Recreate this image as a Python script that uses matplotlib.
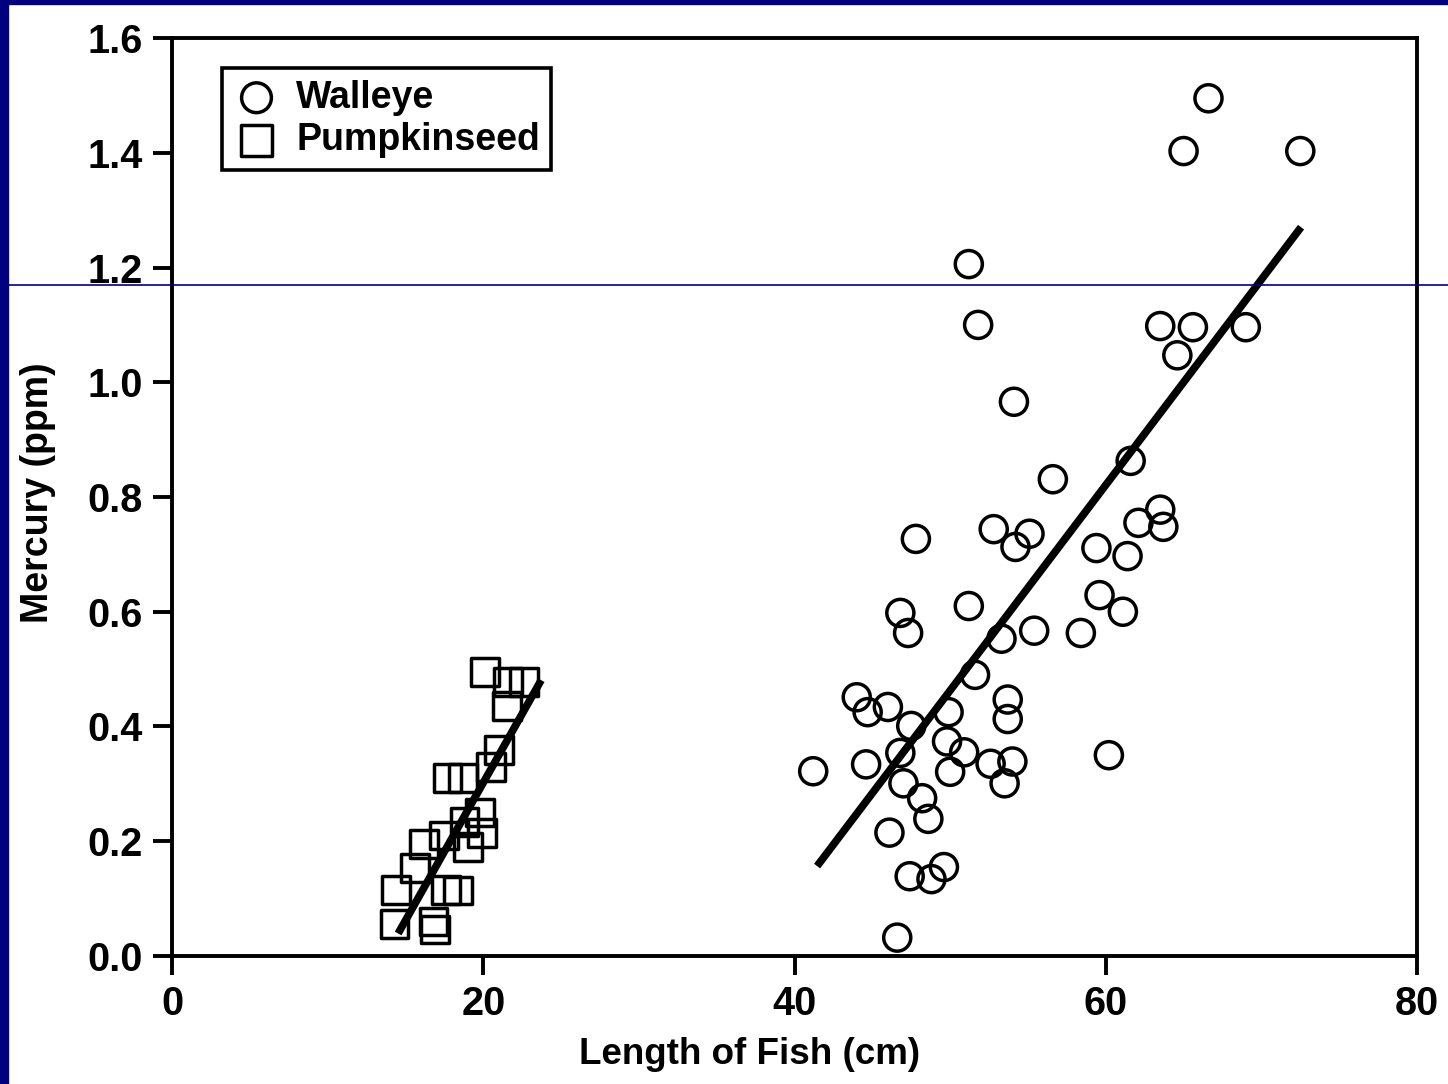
import matplotlib
matplotlib.use('Agg')
import matplotlib.pyplot as plt
from matplotlib.lines import Line2D
from matplotlib.patches import Rectangle

plt.rcParams['font.family'] = ['Liberation Sans', 'DejaVu Sans']

# -- data -------------------------------------------------------------------
walleye_len = [66.6, 65.0, 72.5, 51.2, 51.8, 63.5, 65.6, 64.6, 69.0, 54.1,
               61.6, 56.6, 47.8, 52.8, 55.1, 54.2, 59.4, 61.4, 62.1, 63.5,
               63.7, 59.6, 61.1, 51.2, 46.8, 47.3, 55.4, 53.3, 58.4, 51.6,
               44.0, 44.7, 46.0, 47.5, 49.9, 53.7, 53.7, 49.8, 50.9, 46.8,
               44.6, 41.2, 50.0, 52.6, 54.0, 53.5, 47.0, 48.2, 48.6, 46.1,
               60.2, 47.4, 48.8, 49.6, 46.6]
walleye_hg = [1.495, 1.403, 1.403, 1.206, 1.100, 1.098, 1.096, 1.047, 1.096, 0.966,
              0.863, 0.831, 0.727, 0.744, 0.736, 0.713, 0.711, 0.697, 0.755, 0.778,
              0.748, 0.629, 0.600, 0.610, 0.598, 0.563, 0.567, 0.553, 0.563, 0.490,
              0.451, 0.425, 0.434, 0.401, 0.425, 0.447, 0.413, 0.374, 0.355, 0.354,
              0.334, 0.322, 0.321, 0.335, 0.339, 0.301, 0.301, 0.275, 0.239, 0.215,
              0.350, 0.139, 0.134, 0.155, 0.032]

pumpkin_len = [20.1, 21.6, 22.6, 21.5, 21.0, 20.5, 17.7, 18.7, 19.8, 18.8,
               19.9, 16.2, 17.5, 19.0, 15.6, 14.4, 17.6, 18.4, 14.3, 16.9,
               16.8]
pumpkin_hg = [0.495, 0.477, 0.477, 0.436, 0.359, 0.329, 0.310, 0.310, 0.250, 0.233,
              0.214, 0.195, 0.210, 0.190, 0.153, 0.115, 0.115, 0.114, 0.056, 0.046,
              0.060]

# fitted lines (end points as drawn)
walleye_fit_x = [41.6, 72.4]
walleye_fit_y = [0.162, 1.265]
pumpkin_fit_x = [14.65, 23.6]
pumpkin_fit_y = [0.045, 0.475]

x_ticks = [0, 20, 40, 60, 80]
y_ticks = [0.0, 0.2, 0.4, 0.6, 0.8, 1.0, 1.2, 1.4, 1.6]

NAVY = '#000080'
MS_CIRCLE = 19.5
MS_SQUARE = 20

fig = plt.figure(figsize=(14.48, 10.84), dpi=100)
ax = fig.add_axes([0.1188, 0.1181, 0.8598, 0.8468])

ax.scatter(walleye_len, walleye_hg, s=MS_CIRCLE ** 2, marker='o', facecolors='none',
           edgecolors='black', linewidths=2.5, zorder=3, label='Walleye')
ax.scatter(pumpkin_len, pumpkin_hg, s=MS_SQUARE ** 2, marker='s', facecolors='none',
           edgecolors='black', linewidths=2.5, zorder=3, label='Pumpkinseed')
ax.plot(walleye_fit_x, walleye_fit_y, color='black', lw=5.5, zorder=4)
ax.plot(pumpkin_fit_x, pumpkin_fit_y, color='black', lw=5.5, zorder=4)

ax.set_xlim(0, 80)
ax.set_ylim(0, 1.6)
ax.set_xticks(x_ticks)
ax.set_yticks(y_ticks)
ax.set_xticklabels([str(t) for t in x_ticks])
ax.set_yticklabels([f'{t:.1f}' for t in y_ticks])
for s in ax.spines.values():
    s.set_linewidth(2.8)
ax.tick_params(direction='out', length=14, width=2.8, labelsize=28.5, pad=7)
for lab in ax.get_xticklabels() + ax.get_yticklabels():
    lab.set_fontweight('bold')

ax.set_xlabel('Length of Fish (cm)', fontsize=26.5, fontweight='bold')
ax.set_ylabel('Mercury (ppm)', fontsize=27, fontweight='bold')
ax.xaxis.set_label_coords(0.464, -0.088)
ax.yaxis.set_label_coords(-0.093, 0.505)

leg = ax.legend(loc='upper left', bbox_to_anchor=(0.040, 0.967), borderaxespad=0,
                prop={'size': 27, 'weight': 'bold'}, frameon=True, fancybox=False,
                framealpha=1, edgecolor='black', handletextpad=0.43,
                labelspacing=0.18, borderpad=0.3, handlelength=1.25,
                scatterpoints=1, markerscale=1.1)
leg.get_frame().set_linewidth(2.6)

# slide background: navy strips on the left and top, and the thin rule
fig.add_artist(Rectangle((0, 0), 8 / 1448, 1, transform=fig.transFigure,
                         color=NAVY, zorder=10))
fig.add_artist(Rectangle((0, 1 - 4 / 1084), 1, 4 / 1084, transform=fig.transFigure,
                         color=NAVY, zorder=10))
fig.add_artist(Line2D([0, 1], [1 - 285 / 1084] * 2, transform=fig.transFigure,
                      color=NAVY, lw=1.2, zorder=10))

fig.savefig('out.png', dpi=100)
